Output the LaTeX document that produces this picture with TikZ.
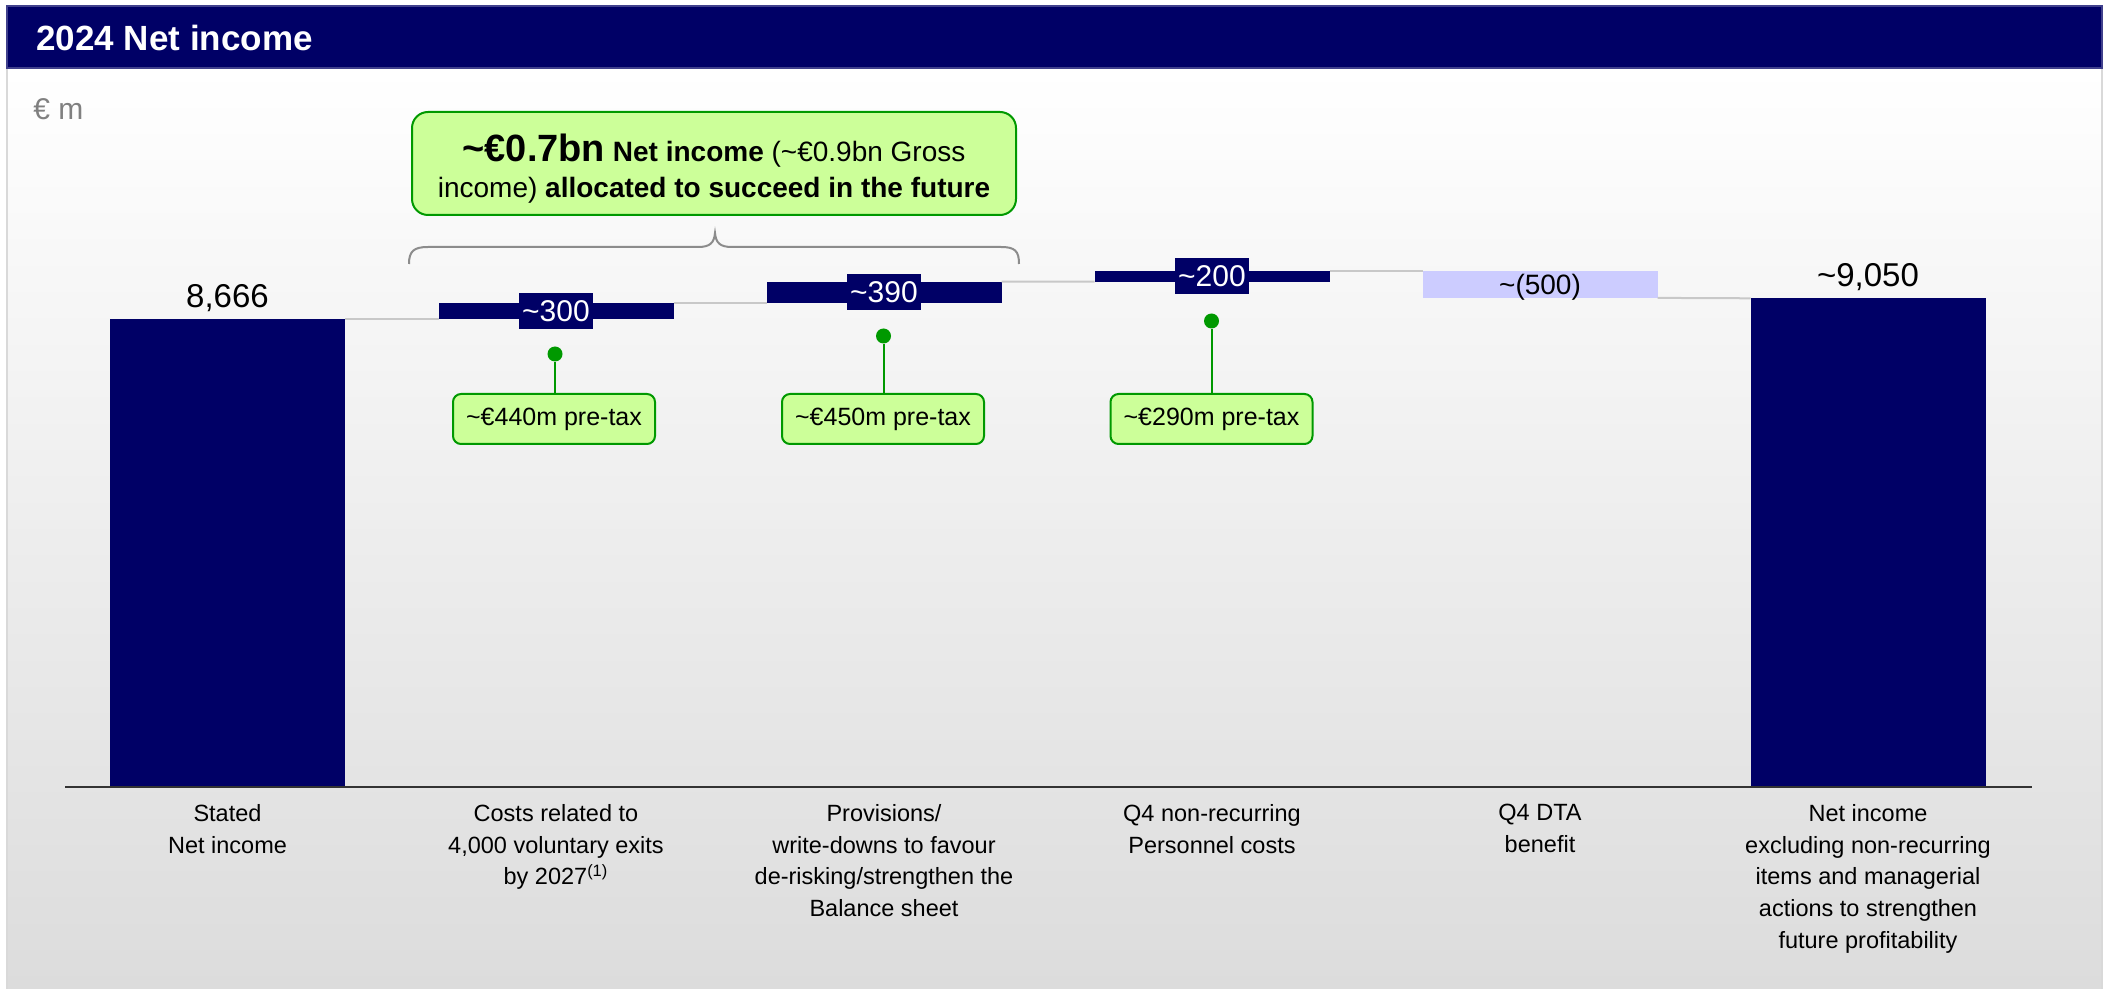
\documentclass[tikz,border=0pt]{standalone}
\usepackage{fontspec}
\setmainfont{Liberation Sans}
\definecolor{navy}{HTML}{000066}
\definecolor{lav}{HTML}{CCCCFF}
\definecolor{pgreen}{HTML}{CCFF99}
\definecolor{dgreen}{HTML}{009900}
\definecolor{conn}{HTML}{C8C8C8}
\definecolor{bgbot}{HTML}{DCDCDC}
\definecolor{bracegray}{HTML}{8C8C8C}
\newcommand\tld{\textasciitilde}
\begin{document}
\begin{tikzpicture}[x=0.5pt,y=-0.5pt,
  bar/.style={fill=navy, inner sep=0pt, outer sep=0pt, minimum width=117.5pt},
  lavbar/.style={fill=lav, inner sep=0pt, outer sep=0pt, minimum width=117.5pt},
  valbox/.style={fill=navy, text=white, inner sep=0pt, minimum width=37pt, minimum height=18pt, font=\fontsize{15}{17}\selectfont},
  toplab/.style={inner sep=0pt, anchor=base, font=\fontsize{16.5}{20}\selectfont},
  catlab/.style={inner sep=0pt, anchor=north, align=center, font=\fontsize{11.75}{15.85}\selectfont},
  pin/.style={circle, fill=dgreen, inner sep=0pt, minimum size=7.5pt},
  pinline/.style={draw=dgreen, line width=1pt},
  pbox/.style={draw=dgreen, line width=1pt, fill=pgreen, rounded corners=4pt, minimum width=101pt, minimum height=25pt, inner sep=0pt, font=\fontsize{12.5}{15}\selectfont},
  connline/.style={draw=conn, line width=1pt},
  callout/.style={draw=dgreen, line width=1pt, fill=pgreen, rounded corners=8pt, minimum width=302pt, minimum height=51.5pt, inner sep=0pt, align=center, font=\fontsize{14}{18}\selectfont},
]
\useasboundingbox (0,0) rectangle (2110,989);
% background panel
\shade[top color=white, bottom color=bgbot] (7,68) rectangle (2102,989);
\draw[black!15, line width=1pt] (7,68) -- (7,989) (2102,68) -- (2102,989);
% title bar
\fill[navy] (7,6) rectangle (2102,68);
\draw[navy!75!white, line width=0.75pt] (7,6) rectangle (2102,68);
\node[anchor=west, inner sep=0pt, text=white, font=\bfseries\fontsize{17.5}{21}\selectfont] (title) at (36,38) {2024 Net income};
\node[anchor=west, inner sep=0pt, text=black!50, font=\fontsize{15}{18}\selectfont] (unit) at (33,109) {€ m};

% callout
\node[callout] (co) at (714,163.5) {\rule{0pt}{18.5pt}{\bfseries\fontsize{19}{22}\selectfont \tld€0.7bn} {\bfseries Net income} (\tld€0.9bn Gross\\income) {\bfseries allocated to succeed in the future}};
% brace
\draw[bracegray, line width=1pt] (409,264) .. controls (409,251) and (414,247) .. (428,247) -- (698,247) .. controls (710,247) and (714,243) .. (715,233) .. controls (716,243) and (720,247) .. (732,247) -- (1001,247) .. controls (1015,247) and (1019,251) .. (1019,264);

% bars
\node[bar, minimum height=234pt] (b1) at (227.5,553) {};
\node[bar, minimum height=8.1pt] (b2) at (556,310.9) {};
\node[bar, minimum height=10.55pt] (b3) at (884,292.25) {};
\node[bar, minimum height=5.4pt] (b4) at (1212,276.3) {};
\node[lavbar, minimum height=13.5pt] (b5) at (1540,284.4) {};
\node[bar, minimum height=244.35pt] (b6) at (1868,542.65) {};

% connectors
\draw[connline] (b1.north east) -- (b2.south west);
\draw[connline] (b2.north east) -- (b3.south west);
\draw[connline] (b3.north east) -- (b4.south west);
\draw[connline] (b4.north east) -- (b5.north west);
\draw[connline] (b5.south east) -- (b6.north west);

% axis
\draw[black!80, line width=1pt] (65,787) -- (2032,787);

% value labels
\node[toplab] (l1) at (227.5,308) {8,666};
\node[toplab] (l6) at (1868,287) {\tld9,050};
\node[valbox] (v2) at (b2) {\tld300};
\node[valbox] (v3) at (b3) {\tld390};
\node[valbox] (v4) at (b4) {\tld200};
\node[inner sep=0pt, font=\fontsize{14}{17}\selectfont] (v5) at ([yshift=-1.5pt]b5.center) {\tld(500)};

% pins
\node[pbox] (p2) at (554,419) {\tld€440m pre-tax};
\node[pbox] (p3) at (883,419) {\tld€450m pre-tax};
\node[pbox] (p4) at (1211.5,419) {\tld€290m pre-tax};
\node[pin] (d2) at (555,354) {};
\node[pin] (d3) at (883.5,336) {};
\node[pin] (d4) at (1211.5,321) {};
\draw[pinline] (d2) -- (p2.north -| d2);
\draw[pinline] (d3) -- (p3.north -| d3);
\draw[pinline] (d4) -- (p4.north -| d4);

% category labels
\node[catlab] (c1) at (227.5,804) {Stated\\Net income};
\node[catlab] (c2) at (556,804) {Costs related to\\4,000 voluntary exits\\by 2027\textsuperscript{(1)}};
\node[catlab] (c3) at (884,804) {Provisions/\\write-downs to favour\\de-risking/strengthen the\\Balance sheet};
\node[catlab] (c4) at (1212,804) {Q4 non-recurring\\Personnel costs};
\node[catlab] (c5) at (1540,804) {Q4 DTA\\benefit};
\node[catlab] (c6) at (1868,804) {Net income\\excluding non-recurring\\items and managerial\\actions to strengthen\\future profitability};
\end{tikzpicture}
\end{document}
